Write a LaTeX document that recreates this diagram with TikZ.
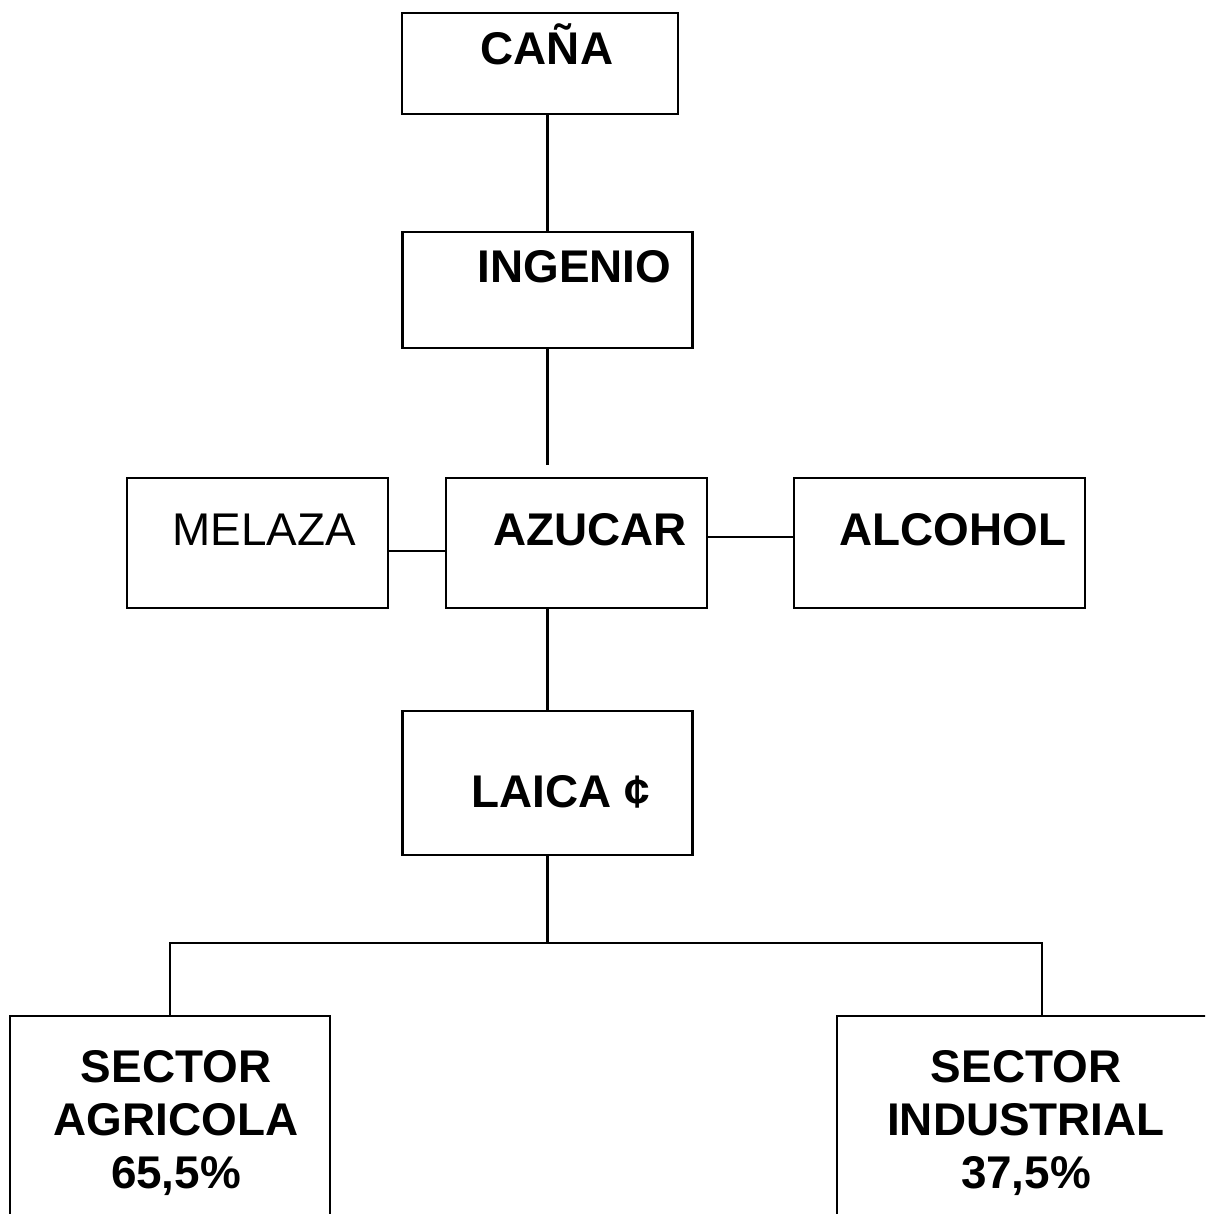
\documentclass[tikz,border=0pt]{standalone}
\usepackage{fontspec}
\setmainfont{Liberation Sans}
\begin{document}
\begin{tikzpicture}
    [
    x=0.025cm, y=-0.025cm,
    every node/.style={font=\fontsize{32.6}{37.6}\selectfont\bfseries},
    box/.style={rectangle, draw, line width=1.8pt, inner sep=0pt},
    word/.style={anchor=base, inner sep=0pt},
    link/.style={line width=1.6pt}
    ]

% Frame
    \useasboundingbox (0,0) rectangle (1205,1214);
    \clip (0,0) rectangle (1205,1214);

% Boxes
    \node[box, minimum width=6.9cm, minimum height=2.525cm] (cana) at (540,63.5) {};
    \node[box, minimum width=7.25cm, minimum height=2.9cm] (ingenio) at (547.5,290) {};
    \node[box, minimum width=6.525cm, minimum height=3.25cm] (melaza) at (257.5,543) {};
    \node[box, minimum width=6.525cm, minimum height=3.25cm] (azucar) at (576.5,543) {};
    \node[box, minimum width=7.275cm, minimum height=3.25cm] (alcohol) at (939.5,543) {};
    \node[box, minimum width=7.25cm, minimum height=3.6cm] (laica) at (547.5,783) {};
    \node[box, minimum width=8cm, minimum height=6.25cm] (agricola) at (170,1141) {};
    \node[box, minimum width=11.3cm, minimum height=6.25cm] (industrial) at (1063,1141) {};

% Texts
    \node[word] (cana_t) at (547,65) {CAÑA};
    \node[word] (ingenio_t) at (574.5,283) {INGENIO};
    \node[word, font=\fontsize{32.6}{37.6}\selectfont\mdseries] (melaza_t) at (264,545) {MELAZA};
    \node[word] (azucar_t) at (590,545) {AZUCAR};
    \node[word] (alcohol_t) at (953,545) {ALCOHOL};
    \node[word] (laica_t) at (561,807) {LAICA ¢};
    \node[word, align=center] (agricola_t) at (176,1188) {SECTOR\\AGRICOLA\\65,5\%};
    \node[word, align=center] (industrial_t) at (1026,1188) {SECTOR\\INDUSTRIAL\\37,5\%};

% Connectors
    \coordinate (gap) at (547.5,465);
    \coordinate (fork) at (547.5,943);
    \draw[link] (ingenio.north) -- (ingenio.north |- cana.south);
    \draw[link] (ingenio.south) -- (gap);
    \draw[link] ([yshift=-0.2cm]melaza.east) -- ([yshift=-0.2cm]azucar.west);
    \draw[link] ([yshift=0.15cm]azucar.east) -- ([yshift=0.15cm]alcohol.west);
    \draw[link] (laica.north) -- (laica.north |- azucar.south);
    \draw[link] (laica.south) -- (fork);
    \draw[link] (agricola.north) |- (fork) -| ([xshift=-0.525cm]industrial.north);

\end{tikzpicture}
\end{document}
